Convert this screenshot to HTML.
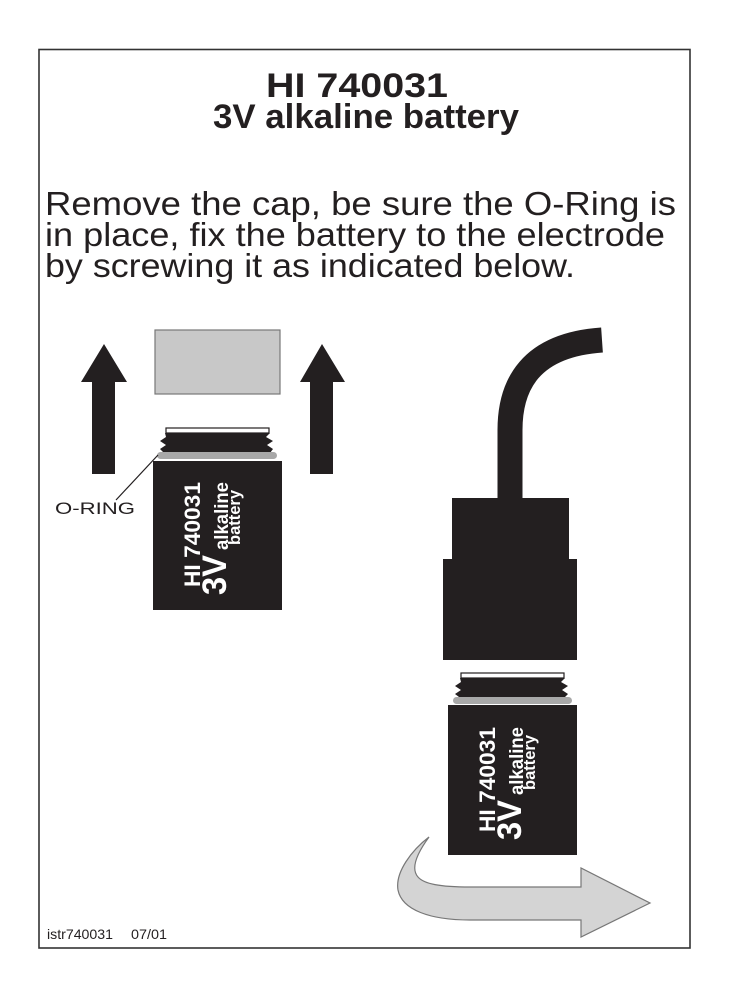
<!DOCTYPE html>
<html><head><meta charset="utf-8"><style>
html,body{margin:0;padding:0;background:#fff;}
svg{display:block;}
</style></head><body>
<svg width="730" height="1000" viewBox="0 0 730 1000" xmlns="http://www.w3.org/2000/svg">
<rect x="39" y="49.5" width="651" height="898.5" fill="#fff" stroke="#333" stroke-width="1.6"/>
<g font-family="'Liberation Sans',sans-serif" font-weight="bold" fill="#231f20" text-anchor="middle">
<text x="357" y="97" font-size="34" textLength="182" lengthAdjust="spacingAndGlyphs">HI 740031</text>
<text x="366" y="128" font-size="34" textLength="306" lengthAdjust="spacingAndGlyphs">3V alkaline battery</text>
</g>
<g font-family="'Liberation Sans',sans-serif" fill="#231f20" font-size="33">
<text x="45" y="215" textLength="631" lengthAdjust="spacingAndGlyphs">Remove the cap, be sure the O-Ring is</text>
<text x="45" y="246" textLength="620" lengthAdjust="spacingAndGlyphs">in place, fix the battery to the electrode</text>
<text x="45" y="277" textLength="530" lengthAdjust="spacingAndGlyphs">by screwing it as indicated below.</text>
</g>
<rect x="155" y="330" width="125" height="64" fill="#c8c8c8" stroke="#777" stroke-width="1.2"/>
<polygon points="104,344 127,382 115,382 115,474 92,474 92,382 81,382" fill="#231f20"/>
<polygon points="322,344 345,382 333,382 333,474 310,474 310,382 300,382" fill="#231f20"/>
<g>
<rect x="166" y="428" width="103" height="5" fill="#fff" stroke="#231f20" stroke-width="1.2"/>
<polygon points="165,433 270,433 266,437 273,441 267,445 273,449 270,453 164,453 160,449 166,445 160,441 166,437" fill="#231f20"/>
<rect x="157" y="452" width="120" height="7" rx="3.5" fill="#a8a8a8"/>
<rect x="153" y="461" width="129" height="149" fill="#231f20"/>
<g transform="translate(153,610) rotate(-90)" fill="#fff" font-family="'Liberation Sans',sans-serif" font-weight="bold">
<text x="23" y="47" font-size="22" textLength="105" lengthAdjust="spacingAndGlyphs">HI 740031</text>
<text x="15" y="73" font-size="34" textLength="40" lengthAdjust="spacingAndGlyphs">3V</text>
<text x="60" y="75" font-size="19" textLength="68" lengthAdjust="spacingAndGlyphs">alkaline</text>
<text x="65" y="87" font-size="17" textLength="55" lengthAdjust="spacingAndGlyphs">battery</text>
</g>
</g>
<text x="55" y="514" font-family="'Liberation Sans',sans-serif" font-size="17" fill="#231f20" textLength="80" lengthAdjust="spacingAndGlyphs">O-RING</text>
<line x1="116" y1="500" x2="158" y2="455" stroke="#231f20" stroke-width="1.2"/>
<path d="M510,498 L510,430 C510,385 530,345 602,340" fill="none" stroke="#231f20" stroke-width="25"/>
<rect x="452" y="498" width="117" height="62" fill="#231f20"/>
<rect x="443" y="559" width="134" height="101" fill="#231f20"/>
<g transform="translate(295,245)">
<rect x="166" y="428" width="103" height="5" fill="#fff" stroke="#231f20" stroke-width="1.2"/>
<polygon points="165,433 270,433 266,437 273,441 267,445 273,449 270,452 164,452 160,449 166,445 160,441 166,437" fill="#231f20"/>
<rect x="158" y="452" width="119" height="7" rx="3.5" fill="#a8a8a8"/>
<rect x="153" y="460" width="129" height="150" fill="#231f20"/>
<g transform="translate(153,610) rotate(-90)" fill="#fff" font-family="'Liberation Sans',sans-serif" font-weight="bold">
<text x="23" y="47" font-size="22" textLength="105" lengthAdjust="spacingAndGlyphs">HI 740031</text>
<text x="15" y="73" font-size="34" textLength="40" lengthAdjust="spacingAndGlyphs">3V</text>
<text x="60" y="75" font-size="19" textLength="68" lengthAdjust="spacingAndGlyphs">alkaline</text>
<text x="65" y="87" font-size="17" textLength="55" lengthAdjust="spacingAndGlyphs">battery</text>
</g>
</g>
<path d="M429,837 C418,852 410,868 418,877 C424,884 440,887 470,887 L581,887 L581,868 L650,903 L581,937 L581,920 L470,920 C430,920 402,910 398,890 C395,872 412,850 429,837 Z" fill="#d4d4d4" stroke="#777" stroke-width="1.2"/>
<g font-family="'Liberation Sans',sans-serif" font-size="14" fill="#231f20">
<text x="47" y="939" textLength="66" lengthAdjust="spacingAndGlyphs">istr740031</text>
<text x="131" y="939" textLength="36" lengthAdjust="spacingAndGlyphs">07/01</text>
</g>
</svg>
</body></html>
